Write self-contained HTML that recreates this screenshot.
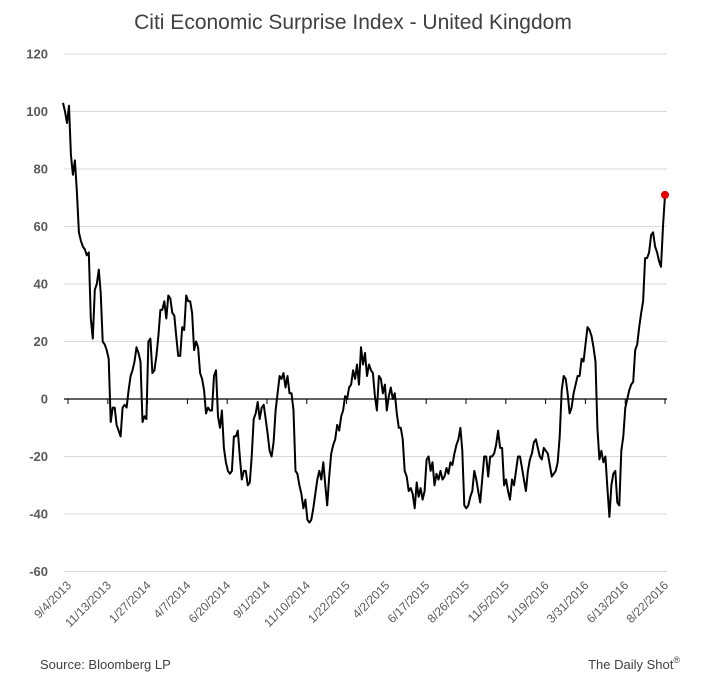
<!DOCTYPE html>
<html><head><meta charset="utf-8"><style>
body{margin:0;background:#fff;}
svg{display:block;font-family:"Liberation Sans",sans-serif;}
</style></head><body>
<svg width="706" height="682" viewBox="0 0 706 682" xmlns="http://www.w3.org/2000/svg">
<text x="353" y="29" text-anchor="middle" font-size="21" fill="#404040">Citi Economic Surprise Index - United Kingdom</text>
<g id="grid"></g><g id="yticks"></g><g id="xaxis"></g>
<path id="line" fill="none" stroke="#000" stroke-width="2" stroke-linejoin="round"/>
<circle id="dot" r="4" fill="#e00000"/>
<text x="40" y="669" font-size="13" fill="#404040">Source: Bloomberg LP</text>
<text x="680" y="669" text-anchor="end" font-size="13" fill="#404040">The Daily Shot<tspan font-size="9" dy="-6">®</tspan></text>
</svg>
<script>
const yTicks=[120,100,80,60,40,20,0,-20,-40,-60];
const xLabels=["9/4/2013","11/13/2013","1/27/2014","4/7/2014","6/20/2014","9/1/2014","11/10/2014","1/22/2015","4/2/2015","6/17/2015","8/26/2015","11/5/2015","1/19/2016","3/31/2016","6/13/2016","8/22/2016"];
const values=[103,100,96,102,85,78,83,72,58,55,53,52,50,51,28,21,38,40,45,37,20,19,17,14,-8,-3,-3,-9,-11,-13,-3,-2,-3,3,8,10,13,18,16,13,-8,-6,-7,20,21,9,10,15,22,31,31,34,28,36,35,30,29,22,15,15,25,24,36,34,34,30,17,20,18,9,7,3,-5,-3,-4,-4,8,10,-6,-10,-4,-17,-22,-25,-26,-25,-13,-13,-11,-20,-28,-25,-25,-30,-29,-20,-7,-5,-1,-7,-3,-2,-7,-12,-18,-20,-15,-4,2,8,7,9,4,8,2,2,-4,-25,-26,-30,-33,-38,-35,-42,-43,-42,-38,-33,-28,-25,-28,-22,-30,-37,-27,-19,-16,-14,-9,-11,-6,-4,1,0,4,5,10,7,12,5,18,12,16,8,12,10,9,1,-4,8,7,2,5,-4,1,4,0,2,-5,-10,-10,-14,-25,-27,-32,-31,-33,-38,-29,-34,-31,-35,-32,-21,-20,-25,-22,-30,-26,-28,-25,-28,-27,-24,-26,-22,-23,-19,-16,-14,-10,-18,-37,-38,-37,-34,-32,-25,-28,-32,-36,-28,-20,-20,-27,-20,-20,-19,-16,-11,-17,-17,-30,-28,-32,-35,-28,-30,-25,-20,-20,-24,-28,-32,-25,-21,-19,-15,-14,-17,-20,-21,-17,-18,-19,-23,-27,-26,-25,-22,-13,3,8,7,2,-5,-3,2,5,8,8,14,13,19,25,24,22,18,13,-10,-21,-18,-22,-20,-31,-41,-30,-26,-25,-36,-37,-18,-13,-3,0,3,5,6,17,19,25,30,34,49,49,51,57,58,53,51,48,46,60,71];
const NS="http://www.w3.org/2000/svg";
const X0=63,X1=665,T0=68,T1=665;
const y=v=>399-v*57.5/20;
const x=i=>X0+(X1-X0)*i/(values.length-1);
const grid=document.getElementById('grid'),yt=document.getElementById('yticks'),xa=document.getElementById('xaxis');
yTicks.forEach(t=>{
  if(t!==0){const l=document.createElementNS(NS,'line');
  
  
  l.setAttribute('x1',64);l.setAttribute('x2',667);l.setAttribute('y1',y(t));l.setAttribute('y2',y(t));
  l.setAttribute('stroke','#d9d9d9');l.setAttribute('stroke-width',1);grid.appendChild(l);}
  const tx=document.createElementNS(NS,'text');
  
  
  tx.setAttribute('x',48);tx.setAttribute('y',y(t)+4.5);tx.setAttribute('text-anchor','end');
  tx.setAttribute('font-size','13');tx.setAttribute('font-weight','bold');tx.setAttribute('fill','#595959');
  tx.textContent=t;yt.appendChild(tx);
});
const ax=document.createElementNS(NS,'line');


ax.setAttribute('x1',64);ax.setAttribute('x2',667);ax.setAttribute('y1',399);ax.setAttribute('y2',399);
ax.setAttribute('stroke','#000');ax.setAttribute('stroke-width',1.3);xa.appendChild(ax);
xLabels.forEach((s,i)=>{
  const px=T0+(T1-T0)*i/(xLabels.length-1);
  const tk=document.createElementNS(NS,'line');
  
  
  tk.setAttribute('x1',px);tk.setAttribute('x2',px);tk.setAttribute('y1',399);tk.setAttribute('y2',404);
  tk.setAttribute('stroke','#000');xa.appendChild(tk);
  const tx=document.createElementNS(NS,'text');
  
  
  tx.setAttribute('text-anchor','end');tx.setAttribute('font-size','12');tx.setAttribute('fill','#595959');
  tx.setAttribute('transform','translate('+(px+4)+',586) rotate(-45)');
  tx.textContent=s;xa.appendChild(tx);
});
document.getElementById('line').setAttribute('d',values.map((v,i)=>(i?'L':'M')+x(i).toFixed(1)+','+y(v).toFixed(1)).join(''));
const d=document.getElementById('dot');
d.setAttribute('cx',x(values.length-1));d.setAttribute('cy',y(values[values.length-1]));
</script>
</body></html>
